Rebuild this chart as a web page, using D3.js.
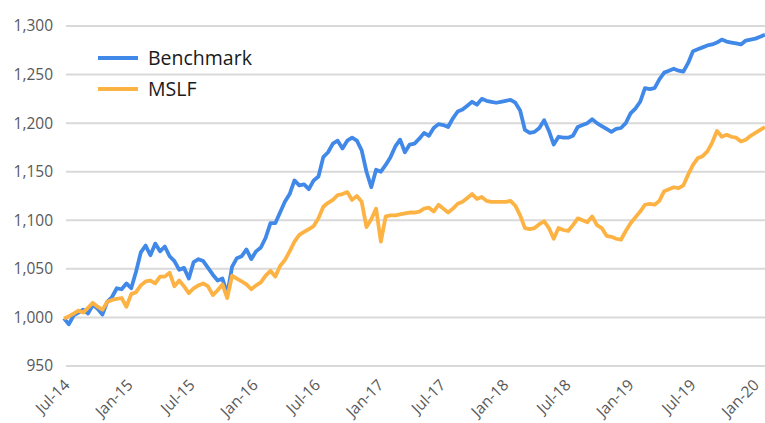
<!DOCTYPE html>
<html><head><meta charset="utf-8">
<script src="https://cdn.jsdelivr.net/npm/d3@7"></script>
<style>
body{margin:0;background:#fff;}
svg{display:block;font-family:"Open Sans","Noto Sans",sans-serif;}
</style></head>
<body><svg id="chart" width="765" height="423"></svg>
<script>
const startDate = "2014-06-16";   // first observation, bi-weekly thereafter
const stepDays = 14;
const seriesNames = ["Benchmark", "MSLF"];
const benchmark = [999,993,1002,1005,1008,1004,1013,1009,1003,1016,1021,1030,1029,1035,1030,1047,1067,1074,1064,1076,
1068,1073,1063,1058,1049,1051,1040,1057,1060,1058,1051,1044,1038,1040,1024,1052,1061,1063,1070,1060,
1068,1072,1082,1097,1097,1108,1119,1127,1141,1136,1137,1132,1141,1145,1165,1170,1179,1182,1174,1182,
1185,1182,1172,1150,1134,1152,1150,1157,1165,1176,1183,1170,1178,1179,1184,1190,1187,1195,1199,1198,
1196,1205,1212,1214,1218,1222,1219,1225,1223,1222,1221,1222,1223,1224,1221,1213,1193,1190,1191,1195,
1203,1192,1178,1186,1185,1185,1187,1196,1198,1200,1204,1200,1197,1194,1191,1194,1195,1200,1210,1215,
1222,1236,1235,1236,1245,1252,1254,1256,1254,1253,1262,1274,1276,1278,1280,1281,1283,1286,1284,1283,
1282,1281,1285,1286,1287,1289,1291];
const mslf = [999,1001,1004,1007,1005,1010,1015,1011,1008,1016,1018,1019,1020,1011,1024,1026,1033,1037,1038,1035,
1042,1042,1046,1032,1038,1032,1025,1030,1033,1035,1032,1023,1028,1034,1020,1043,1040,1037,1034,1029,
1033,1036,1043,1048,1042,1053,1059,1068,1078,1085,1088,1091,1094,1102,1114,1118,1121,1126,1127,1129,
1121,1125,1119,1093,1101,1112,1078,1104,1105,1105,1106,1107,1108,1108,1109,1112,1113,1109,1116,1112,
1108,1112,1117,1119,1123,1127,1122,1124,1120,1119,1119,1119,1119,1120,1115,1105,1092,1091,1092,1096,
1099,1092,1081,1092,1090,1089,1095,1102,1100,1098,1104,1095,1092,1084,1083,1081,1080,1089,1097,1103,
1109,1116,1117,1116,1120,1130,1132,1134,1133,1136,1147,1157,1164,1166,1171,1180,1192,1186,1188,1186,
1185,1181,1183,1187,1190,1193,1196];
const yTicks = [950,1000,1050,1100,1150,1200,1250,1300];
const xTickLabels = ["Jul-14","Jan-15","Jul-15","Jan-16","Jul-16","Jan-17","Jul-17","Jan-18","Jul-18","Jan-19","Jul-19","Jan-20"];
const colors = ["#4189E8", "#FDB244"];

const parse = d3.timeParse("%Y-%m-%d");
const t0 = parse(startDate);
const dates = benchmark.map((_, i) => d3.timeDay.offset(t0, i * stepDays));
const tickDates = xTickLabels.map(s => d3.timeParse("%b-%y")(s));

const svg = d3.select("#chart");
const x = d3.scaleTime().domain([dates[0], dates[dates.length - 1]]).range([64, 765]);
const y = d3.scaleLinear().domain([950, 1300]).range([366, 26]);

// gridlines
svg.append("g").selectAll("line").data(yTicks).join("line")
  .attr("x1", 66).attr("x2", 765)
  .attr("y1", d => y(d)).attr("y2", d => y(d))
  .attr("stroke", "#d9d9d9").attr("stroke-width", 2);

// y axis labels
const yAxis = d3.axisLeft(y).tickValues(yTicks).tickFormat(d3.format(",")).tickSize(0).tickPadding(0);
const gy = svg.append("g").attr("transform", "translate(53,0)").call(yAxis);
gy.select(".domain").remove();
gy.selectAll("text").attr("fill", "#595959").style("font-size", "15.5px").style("font-family", "'Open Sans',sans-serif");

// x axis labels (rotated)
svg.append("g").selectAll("text").data(tickDates).join("text")
  .attr("transform", d => `translate(${x(d) + 1.5},386) rotate(-45)`)
  .attr("text-anchor", "end")
  .attr("fill", "#595959").style("font-size", "15.5px")
  .text((d, i) => xTickLabels[i]);

// lines
const line = d3.line().x((d, i) => x(dates[i])).y(d => y(d));
[benchmark, mslf].forEach((s, k) => {
  svg.append("path").datum(s).attr("d", line)
    .attr("fill", "none").attr("stroke", colors[k]).attr("stroke-width", 3.8)
    .attr("stroke-linejoin", "round");
});

// legend
const leg = svg.append("g");
seriesNames.forEach((n, k) => {
  const ly = 58 + k * 31;
  leg.append("line").attr("x1", 98).attr("x2", 138).attr("y1", ly).attr("y2", ly)
    .attr("stroke", colors[k]).attr("stroke-width", 3.8);
  leg.append("text").attr("x", 148).attr("y", ly + 7).attr("fill", "#1a1a1a")
    .style("font-size", "19.5px").text(n);
});
</script></body></html>
